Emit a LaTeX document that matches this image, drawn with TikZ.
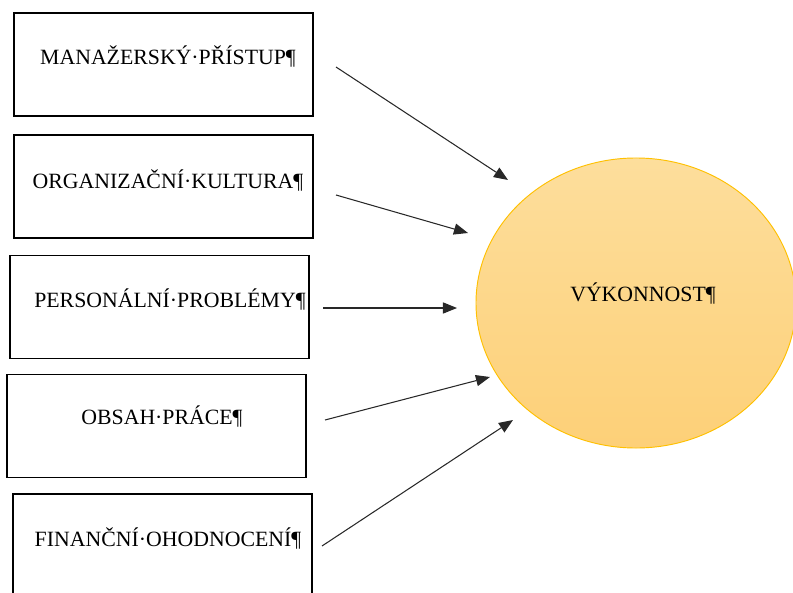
\documentclass[tikz,border=0pt]{standalone}
\usepackage{fontspec}
\setmainfont{Liberation Serif}
\usetikzlibrary{arrows.meta, shapes.geometric}

\definecolor{elltop}{RGB}{253,222,156}
\definecolor{ellbot}{RGB}{253,208,120}
\definecolor{elldraw}{RGB}{255,192,0}
\definecolor{arrowgray}{RGB}{40,40,40}

\begin{document}
\begin{tikzpicture}[
    x=0.03cm, y=-0.03cm,
    factor/.style={rectangle, draw, line width=1.6pt, minimum width=8.97cm, minimum height=3.09cm, inner sep=0pt},
    factortext/.style={anchor=base, font=\fontsize{18.6}{21}\selectfont, inner sep=0pt},
    % Style pour l'ellipse
    result/.style={ellipse, draw=elldraw, line width=0.8pt, top color=elltop, bottom color=ellbot, minimum width=9.6cm, minimum height=8.7cm},
    connector/.style={-{Triangle[length=12pt, width=9.5pt]}, line width=0.9pt, arrowgray}
]
\useasboundingbox (0,0) rectangle (793,592);

% --- FACTEURS ---
\node[factor] (box-mgmt) at (163.5, 64.5) {};
\node[factortext] (lbl-mgmt) at (168, 65) {MANAŽERSKÝ·PŘÍSTUP¶};

\node[factor] (box-culture) at (163.5, 186.5) {};
\node[factortext] (lbl-culture) at (168, 188) {ORGANIZAČNÍ·KULTURA¶};

\node[factor] (box-staff) at (159.5, 307) {};
\node[factortext] (lbl-staff) at (170, 307) {PERSONÁLNÍ·PROBLÉMY¶};

\node[factor] (box-work) at (156.5, 426) {};
\node[factortext] (lbl-work) at (162, 424) {OBSAH·PRÁCE¶};

\node[factor] (box-money) at (162.5, 545.5) {};
\node[factortext] (lbl-money) at (168, 546) {FINANČNÍ·OHODNOCENÍ¶};

% --- VÝKONNOST ---
\node[result] (perf) at (636, 303) {};
\node[factortext] (lbl-perf) at (643, 301) {VÝKONNOST¶};

% --- CONNEXIONS ---
\foreach \i/\sx/\sy/\ex/\ey in {mgmt/336/67/508/180, culture/336/195/468/233, staff/323/308/457/308, work/325/420/490/377, money/322/546/513/420}
{
    \coordinate (\i-out) at (\sx, \sy);
    \coordinate (perf-\i) at (\ex, \ey);
    \draw[connector] (\i-out) -- (perf-\i);
}

\end{tikzpicture}
\end{document}
